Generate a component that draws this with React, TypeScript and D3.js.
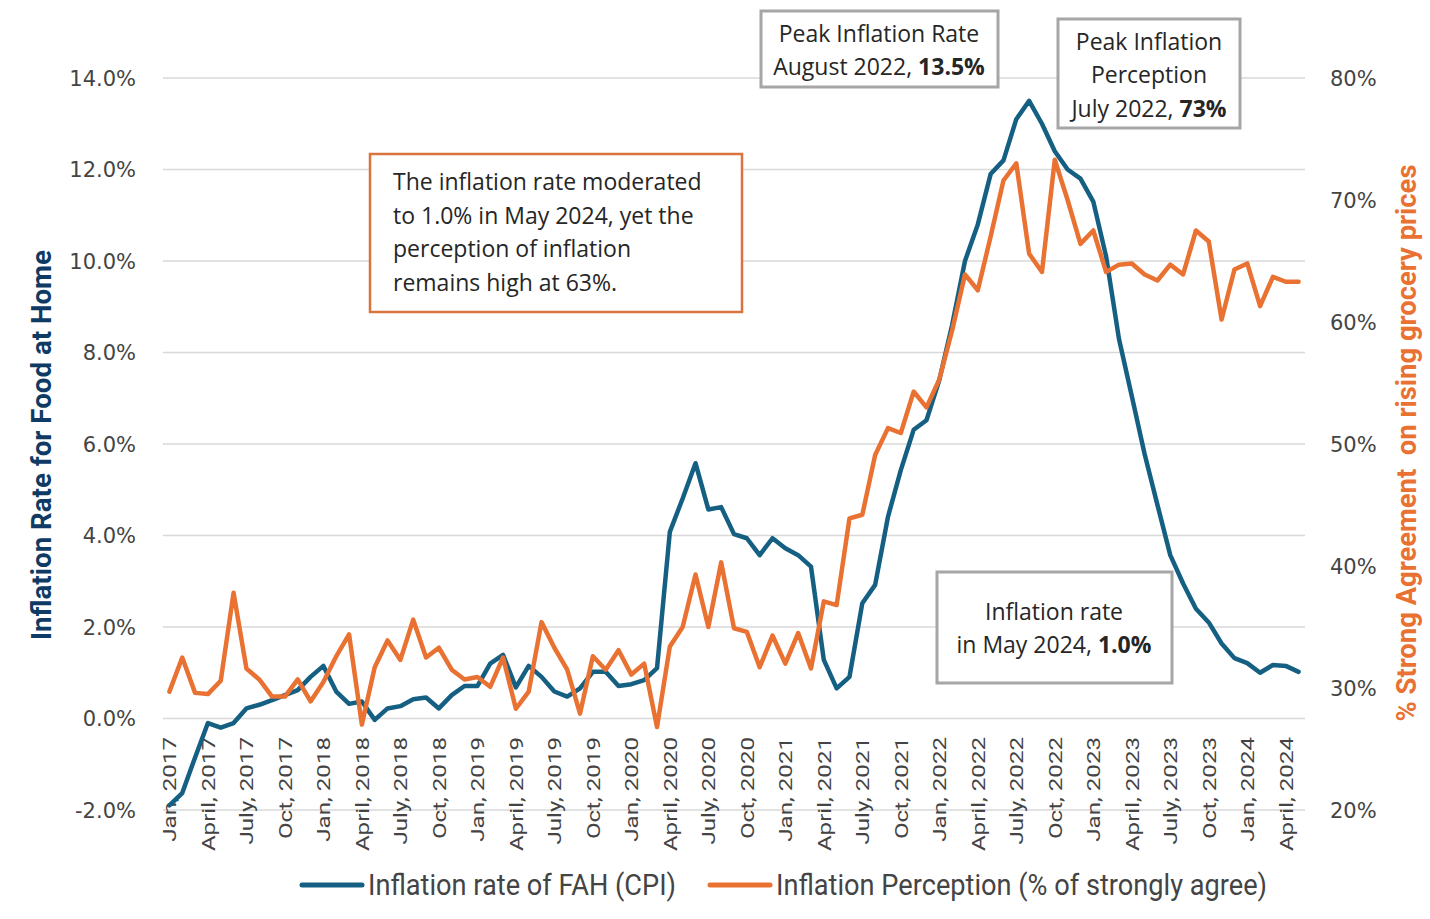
import React from "react";
import * as d3 from "d3";

// monthly series, Jan 2017 .. May 2024
const inflationRate: number[] = [
  -1.9, -1.63, -0.85, -0.1, -0.2, -0.1, 0.22, 0.3, 0.4, 0.51, 0.62, 0.91,
  1.15, 0.59, 0.32, 0.37, -0.03, 0.22, 0.27, 0.42, 0.46, 0.22, 0.51, 0.71,
  0.71, 1.2, 1.39, 0.68, 1.15, 0.91, 0.59, 0.48, 0.66, 1.02, 1.02, 0.71,
  0.75, 0.84, 1.1, 4.08, 4.81, 5.58, 4.57, 4.62, 4.03, 3.94, 3.57, 3.94,
  3.72, 3.57, 3.32, 1.28, 0.66, 0.91, 2.52, 2.92, 4.41, 5.43, 6.31, 6.52,
  7.4, 8.6, 10.0, 10.8, 11.9, 12.2, 13.1, 13.5, 13.0, 12.4, 12.0, 11.8,
  11.3, 10.1, 8.3, 7.05, 5.78, 4.67, 3.57, 2.95, 2.4, 2.1, 1.64, 1.32,
  1.21, 1.0, 1.17, 1.15, 1.02,
];

const perception: number[] = [
  29.7, 32.5, 29.6, 29.5, 30.6, 37.8, 31.6, 30.7, 29.3, 29.3, 30.7, 28.9,
  30.5, 32.6, 34.4, 27.0, 31.7, 33.9, 32.3, 35.6, 32.5, 33.3, 31.5, 30.7,
  30.9, 30.1, 32.5, 28.3, 29.7, 35.4, 33.3, 31.5, 27.9, 32.6, 31.5, 33.1,
  31.1, 32.0, 26.8, 33.4, 35.0, 39.3, 35.0, 40.3, 34.9, 34.6, 31.7, 34.3,
  32.0, 34.5, 31.6, 37.1, 36.8, 43.9, 44.2, 49.1, 51.3, 50.9, 54.3, 53.0,
  55.3, 59.3, 63.9, 62.6, 67.0, 71.6, 73.0, 65.6, 64.1, 73.3, 70.0, 66.4,
  67.5, 64.1, 64.7, 64.8, 63.9, 63.4, 64.7, 63.9, 67.5, 66.6, 60.2, 64.3,
  64.8, 61.3, 63.7, 63.3, 63.3,
];

// one label every third month
const tickLabels: string[] = [
  "Jan, 2017", "April, 2017", "July, 2017", "Oct, 2017",
  "Jan, 2018", "April, 2018", "July, 2018", "Oct, 2018",
  "Jan, 2019", "April, 2019", "July, 2019", "Oct, 2019",
  "Jan, 2020", "April, 2020", "July, 2020", "Oct, 2020",
  "Jan, 2021", "April, 2021", "July, 2021", "Oct, 2021",
  "Jan, 2022", "April, 2022", "July, 2022", "Oct, 2022",
  "Jan, 2023", "April, 2023", "July, 2023", "Oct, 2023",
  "Jan, 2024", "April, 2024",
];

const leftTicks = [-2, 0, 2, 4, 6, 8, 10, 12, 14];
const rightTicks = [20, 30, 40, 50, 60, 70, 80];

const BLUE = "#156082";
const ORANGE = "#E97132";
const GRID = "#D9D9D9";
const TEXT = "#444444";
const BOX_GRAY = "#A6A6A6";

export default function App() {
  const width = 1430;
  const height = 919;
  const plot = { left: 163, right: 1305, top: 78, bottom: 810 };

  const x = d3
    .scaleBand<number>()
    .domain(d3.range(inflationRate.length))
    .range([plot.left, plot.right]);
  const cx = (i: number) => (x(i) || 0) + x.bandwidth() / 2;

  const yL = d3.scaleLinear().domain([-2, 14]).range([plot.bottom, plot.top]);
  const yR = d3.scaleLinear().domain([20, 80]).range([plot.bottom, plot.top]);

  const blueLine = d3
    .line<number>()
    .x((_, i) => cx(i))
    .y((d) => yL(d));
  const orangeLine = d3
    .line<number>()
    .x((_, i) => cx(i))
    .y((d) => yR(d));

  const boxText = { fontFamily: "'Open Sans', sans-serif", fontSize: 23, fill: "#262626" };

  return (
    <svg
      width={width}
      height={height}
      viewBox={`0 0 ${width} ${height}`}
      style={{ position: "absolute", left: 0, top: 0, background: "#fff" }}
    >
      {/* gridlines */}
      {leftTicks.map((t) => (
        <line
          key={t}
          x1={plot.left}
          x2={plot.right}
          y1={yL(t)}
          y2={yL(t)}
          stroke={GRID}
          strokeWidth={1.5}
        />
      ))}

      {/* left ticks */}
      {leftTicks.map((t) => (
        <text
          key={t}
          x={136}
          y={yL(t)}
          dy="0.36em"
          textAnchor="end"
          fontFamily="'DejaVu Sans', sans-serif"
          fontSize={21}
          fill={TEXT}
        >
          {t.toFixed(1)}%
        </text>
      ))}

      {/* right ticks */}
      {rightTicks.map((t) => (
        <text
          key={t}
          x={1330}
          y={yR(t)}
          dy="0.36em"
          textAnchor="start"
          fontFamily="'DejaVu Sans', sans-serif"
          fontSize={21}
          fill={TEXT}
        >
          {t}%
        </text>
      ))}

      {/* category labels */}
      {tickLabels.map((lab, k) => (
        <text
          key={lab}
          transform={`translate(${cx(k * 3) + 7},737) rotate(-90) scale(1.27,1)`}
          textAnchor="end"
          fontFamily="Roboto, sans-serif"
          fontSize={19}
          fill={TEXT}
        >
          {lab}
        </text>
      ))}

      {/* axis titles */}
      <text
        transform="translate(51,445) rotate(-90)"
        textAnchor="middle"
        fontFamily="Roboto, sans-serif"
        fontWeight="bold"
        fontSize={28}
        fill="#0E3A63"
        textLength={390}
        lengthAdjust="spacingAndGlyphs"
      >
        Inflation Rate for Food at Home
      </text>
      <text
        transform="translate(1416,443) rotate(-90)"
        textAnchor="middle"
        fontFamily="Roboto, sans-serif"
        fontWeight="bold"
        fontSize={27}
        fill={ORANGE}
        textLength={557}
        lengthAdjust="spacingAndGlyphs"
        style={{ whiteSpace: "pre" }}
      >
        {"% Strong Agreement  on rising grocery prices"}
      </text>

      {/* series */}
      <path d={blueLine(inflationRate) || ""} fill="none" stroke={BLUE} strokeWidth={4.5} strokeLinejoin="round" strokeLinecap="round" />
      <path d={orangeLine(perception) || ""} fill="none" stroke={ORANGE} strokeWidth={4.5} strokeLinejoin="round" strokeLinecap="round" />

      {/* annotation boxes */}
      <rect x={370} y={154} width={372} height={158} fill="#fff" stroke="#D9743C" strokeWidth={2.5} />
      <text x={393} {...boxText}>
        <tspan x={393} y={190}>The inflation rate moderated</tspan>
        <tspan x={393} y={224}>to 1.0% in May 2024, yet the</tspan>
        <tspan x={393} y={257}>perception of inflation</tspan>
        <tspan x={393} y={291}>remains high at 63%.</tspan>
      </text>

      <rect x={761} y={11} width={237} height={76} fill="#fff" stroke={BOX_GRAY} strokeWidth={3} />
      <text textAnchor="middle" {...boxText}>
        <tspan x={879} y={42}>Peak Inflation Rate</tspan>
        <tspan x={879} y={75}>August 2022, <tspan fontWeight="bold">13.5%</tspan></tspan>
      </text>

      <rect x={1058} y={19} width={182} height={109} fill="#fff" stroke={BOX_GRAY} strokeWidth={3} />
      <text textAnchor="middle" {...boxText}>
        <tspan x={1149} y={50}>Peak Inflation</tspan>
        <tspan x={1149} y={83}>Perception</tspan>
        <tspan x={1149} y={117}>July 2022, <tspan fontWeight="bold">73%</tspan></tspan>
      </text>

      <rect x={937} y={572} width={235} height={111} fill="#fff" stroke={BOX_GRAY} strokeWidth={3} />
      <text textAnchor="middle" {...boxText}>
        <tspan x={1054} y={620}>Inflation rate</tspan>
        <tspan x={1054} y={653}>in May 2024, <tspan fontWeight="bold">1.0%</tspan></tspan>
      </text>

      {/* legend */}
      <line x1={302} x2={362} y1={885} y2={885} stroke={BLUE} strokeWidth={5} strokeLinecap="round" />
      <text x={368} y={895} fontFamily="Roboto, sans-serif" fontSize={30} fill={TEXT} textLength={308} lengthAdjust="spacingAndGlyphs">
        Inflation rate of FAH (CPI)
      </text>
      <line x1={710} x2={770} y1={885} y2={885} stroke={ORANGE} strokeWidth={5} strokeLinecap="round" />
      <text x={776} y={895} fontFamily="Roboto, sans-serif" fontSize={30} fill={TEXT} textLength={491} lengthAdjust="spacingAndGlyphs">
        Inflation Perception (% of strongly agree)
      </text>
    </svg>
  );
}
